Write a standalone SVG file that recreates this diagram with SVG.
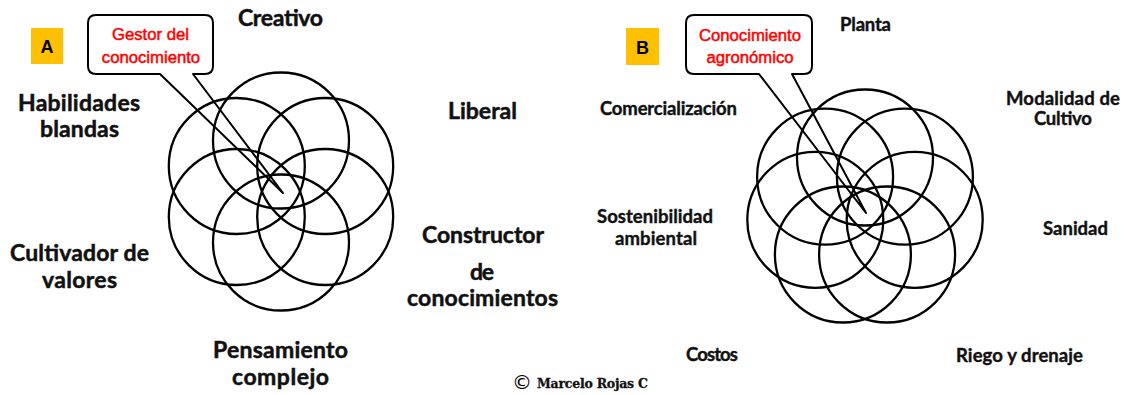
<svg xmlns="http://www.w3.org/2000/svg" width="1128" height="395" viewBox="0 0 1128 395">
<style>
.c{fill:none;stroke:#000;stroke-width:2.3}
.lb{font-family:Lato,"Liberation Sans",sans-serif;font-weight:bold;font-size:23px;fill:#111;stroke:#111;stroke-width:0.5;text-anchor:middle}
.ls{font-family:Lato,"Liberation Sans",sans-serif;font-weight:bold;font-size:18.5px;fill:#111;stroke:#111;stroke-width:0.4;text-anchor:middle}
.red{font-family:"Liberation Sans",Arial,sans-serif;font-size:16.7px;fill:#ff0000;text-anchor:middle;stroke:#ff0000;stroke-width:0.5}
.call{fill:none;stroke:#000;stroke-width:2;stroke-linejoin:round}
.badge{fill:#ffc000}
.bt{font-family:"Liberation Sans",Arial,sans-serif;font-weight:bold;font-size:18px;fill:#000;text-anchor:middle}
</style>
<rect width="1128" height="395" fill="#fff"/>

<g id="circles-A">
<circle class="c" cx="281" cy="140.5" r="68"/>
<circle class="c" cx="325.2" cy="166" r="68"/>
<circle class="c" cx="325.2" cy="217" r="68"/>
<circle class="c" cx="281" cy="242.5" r="68"/>
<circle class="c" cx="236.8" cy="217" r="68"/>
<circle class="c" cx="236.8" cy="166" r="68"/>
</g>

<g id="circles-B">
<circle class="c" cx="865" cy="157.5" r="68"/>
<circle class="c" cx="904.9" cy="176.7" r="68"/>
<circle class="c" cx="914.7" cy="219.8" r="68"/>
<circle class="c" cx="887.1" cy="254.5" r="68"/>
<circle class="c" cx="842.9" cy="254.5" r="68"/>
<circle class="c" cx="815.3" cy="219.8" r="68"/>
<circle class="c" cx="825.1" cy="176.7" r="68"/>
</g>

<g id="connectors"></g>

<g id="badge-A">
<rect class="badge" x="31" y="28" width="32" height="36"/>
<text class="bt" x="47" y="52.5">A</text>
</g>
<g id="badge-B">
<rect class="badge" x="626" y="28" width="33" height="37"/>
<text class="bt" x="642.5" y="53.5">B</text>
</g>

<g id="callout-A">
<path class="call" d="M96,15 H205 Q213,15 213,23 V66 Q213,74 205,74 H193 L283,193 L160,74 H96 Q88,74 88,66 V23 Q88,15 96,15 Z"/>
<text class="red" x="150.5" y="40">Gestor del</text>
<text class="red" x="151" y="63">conocimiento</text>
</g>
<g id="callout-B">
<path class="call" d="M694,15 H804 Q812,15 812,23 V66 Q812,74 804,74 H792 L866,213 L759,74 H694 Q686,74 686,66 V23 Q686,15 694,15 Z"/>
<text class="red" x="750" y="41">Conocimiento</text>
<text class="red" x="750" y="63">agronómico</text>
</g>

<g id="n-creativo"><text class="lb" x="280.5" y="26" textLength="85">Creativo</text></g>
<g id="n-habilidades"><text class="lb" x="79" y="111" textLength="122">Habilidades</text><text class="lb" x="79.5" y="137" textLength="79">blandas</text></g>
<g id="n-liberal"><text class="lb" x="482.5" y="119" textLength="69">Liberal</text></g>
<g id="n-constructor"><text class="lb" x="483" y="243" textLength="122">Constructor</text><text class="lb" x="482" y="280" textLength="24">de</text><text class="lb" x="482.5" y="306" textLength="151">conocimientos</text></g>
<g id="n-cultivador"><text class="lb" x="79.5" y="261" textLength="139">Cultivador de</text><text class="lb" x="79.5" y="288" textLength="75">valores</text></g>
<g id="n-pensamiento"><text class="lb" x="280.5" y="358" textLength="135">Pensamiento</text><text class="lb" x="280.5" y="385" textLength="97">complejo</text></g>

<g id="n-planta"><text class="ls" x="865.5" y="31" textLength="51">Planta</text></g>
<g id="n-comercializacion"><text class="ls" x="668.5" y="115" textLength="137">Comercialización</text></g>
<g id="n-modalidad"><text class="ls" x="1063" y="105" textLength="114">Modalidad de</text><text class="ls" x="1063" y="125" textLength="58">Cultivo</text></g>
<g id="n-sostenibilidad"><text class="ls" x="655" y="223" textLength="116">Sostenibilidad</text><text class="ls" x="656" y="245" textLength="82">ambiental</text></g>
<g id="n-sanidad"><text class="ls" x="1075.5" y="235" textLength="65">Sanidad</text></g>
<g id="n-costos"><text class="ls" x="712" y="361" textLength="52">Costos</text></g>
<g id="n-riego"><text class="ls" x="1019.5" y="362" textLength="127">Riego y drenaje</text></g>

<g id="credit">
<text x="522" y="389" font-family="DejaVu Sans,sans-serif" font-size="20" text-anchor="middle" fill="#000">©</text>
<text x="537" y="388" font-family="DejaVu Serif,serif" font-weight="bold" font-size="12.5" fill="#111" stroke="#111" stroke-width="0.3" textLength="111">Marcelo Rojas C</text>
</g>
</svg>
